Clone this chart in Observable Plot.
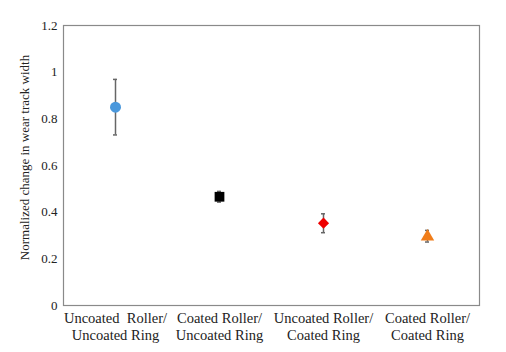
<!DOCTYPE html>
<html>
<head>
<meta charset="utf-8">
<script src="https://cdn.jsdelivr.net/npm/d3@7"></script>
<script src="https://cdn.jsdelivr.net/npm/@observablehq/plot@0.6"></script>
<style>
  html, body { margin: 0; padding: 0; background: #fff; }
  #chart { width: 506px; height: 352px; }
  #chart svg, #chart svg text { font-family: "Liberation Serif", "DejaVu Serif", serif !important; }
</style>
</head>
<body>
<div id="chart"></div>
<script>
const categories = [
  "Uncoated\u00a0 Roller/\nUncoated Ring",
  "Coated Roller/\nUncoated Ring",
  "Uncoated Roller/\nCoated Ring",
  "Coated Roller/\nCoated Ring"
];
const means = [0.85, 0.466, 0.353, 0.295];
const lows = [0.731, 0.443, 0.312, 0.272];
const highs = [0.969, 0.489, 0.393, 0.322];
const symbols = ["circle", "square", "diamond2", "triangle"];
const colors = ["#4a98dc", "#000000", "#ee0000", "#f07d1a"];
const sizes = [5.5, 5.5, 5, 5];
const yTicks = [0, 0.2, 0.4, 0.6, 0.8, 1, 1.2];
const yLabel = "Normalized change in wear track width";

const data = categories.map((c, i) => ({
  cat: c, mean: means[i], lo: lows[i], hi: highs[i],
  symbol: symbols[i], color: colors[i], r: sizes[i]
}));

const chart = Plot.plot({
  width: 506,
  height: 352,
  marginLeft: 63,
  marginRight: 27,
  marginTop: 25,
  marginBottom: 47,
  style: { fontFamily: "'Liberation Serif', 'DejaVu Serif', serif", fontSize: "13px", color: "#222", background: "#fff" },
  x: { domain: categories, type: "band", padding: 0, label: null, tickSize: 0, tickPadding: 6 },
  y: { domain: [0, 1.2], ticks: yTicks, tickFormat: d => String(d), tickSize: 0, tickPadding: 6, label: null },
  marks: [
    Plot.frame({ stroke: "#8a8a8a", strokeWidth: 1.2 }),
    Plot.axisX({ tickSize: 0, tickPadding: 6, fontSize: 14.5, lineHeight: 1.15, fill: "#222" }),
    Plot.axisY({ ticks: yTicks, tickFormat: d => String(d), tickSize: 0, tickPadding: 6, fontSize: 13, fill: "#222", label: null }),
    Plot.text([yLabel], { frameAnchor: "left", textAnchor: "middle", dx: -39, dy: -8, rotate: -90, fontSize: 13, fill: "#222" }),
    Plot.ruleX(data, { x: "cat", y1: "lo", y2: "hi", stroke: "#666", strokeWidth: 1.5 }),
    Plot.tickY(data, { x: "cat", y: "lo", stroke: "#666", strokeWidth: 1.5, insetLeft: 50, insetRight: 50 }),
    Plot.tickY(data, { x: "cat", y: "hi", stroke: "#666", strokeWidth: 1.5, insetLeft: 50, insetRight: 50 }),
    Plot.dot(data, { x: "cat", y: "mean", symbol: d => d.symbol, fill: d => d.color, r: d => d.r, stroke: "none" })
  ],
  symbol: { type: "identity" },
  r: { type: "identity" },
  color: { type: "identity" }
});
document.getElementById("chart").appendChild(chart);
</script>
</body>
</html>
